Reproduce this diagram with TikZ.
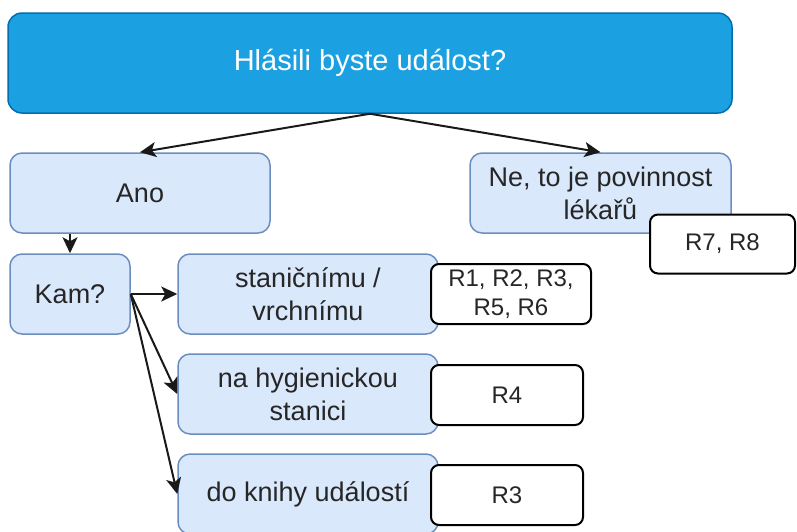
\documentclass[tikz,border=0pt]{standalone}
\usepackage{fontspec}
\setmainfont{Liberation Sans}
\usetikzlibrary{arrows.meta}
\definecolor{askfill}{HTML}{1BA1E2}
\definecolor{askline}{HTML}{006EAF}
\definecolor{optfill}{HTML}{DAE8FC}
\definecolor{optline}{HTML}{6C8EBF}

\begin{document}
\begin{tikzpicture}[x=1pt, y=-1pt,
    question/.style={draw=askline, fill=askfill, text=white, rounded corners=14pt, line width=1.5pt, minimum width=724pt, minimum height=100pt, font=\fontsize{29}{35}\selectfont},
    option/.style={draw=optline, fill=optfill, text=black!85, rounded corners=12pt, line width=1.5pt, minimum height=80pt, align=center, inner sep=0pt, font=\fontsize{27}{33}\selectfont},
    rules/.style={draw=black, fill=white, text=black!85, rounded corners=8pt, line width=2pt, minimum height=60pt, align=center, inner sep=0pt, font=\fontsize{24}{29}\selectfont},
    link/.style={-{Stealth[length=16pt, width=15pt, inset=4pt]}, line width=2pt, black!90}]
    \useasboundingbox (0,0) rectangle (797,531);

    \node[question] (ask) at (370,63) {Hlásili byste událost?};

    \node[option, minimum width=260pt] (ano) at (140,193) {Ano};
    \node[option, minimum width=261pt] (ne) at (600.5,193) {
        Ne, to je povinnost\\
        lékařů
    };

    \node[option, minimum width=120pt] (kam) at (70,294) {Kam?};
    \node[option, minimum width=260pt] (stanicni) at (308,294) {
        staničnímu /\\
        vrchnímu
    };
    \node[option, minimum width=260pt] (hygiena) at (308,394) {
        na hygienickou\\
        stanici
    };
    \node[option, minimum width=260pt] (kniha) at (308,494) {do knihy událostí};

    \draw[link] (ask.south) -- (ano.north);
    \draw[link] (ask.south) -- (ne.north);
    \draw[link] (kam.north |- ano.south) -- (kam.north);
    \draw[link] (kam.east) -- (stanicni.west);
    \draw[link] (kam.east) -- (hygiena.west);
    \draw[link] (kam.east) -- (kniha.west);

    \node[rules, minimum width=145pt, minimum height=59pt] (rne) at (722.5,244) {R7, R8};
    \node[rules, minimum width=160pt] (rstanicni) at (511,294) {
        R1, R2, R3,\\
        R5, R6
    };
    \node[rules, minimum width=152pt] (rhygiena) at (507,395) {R4};
    \node[rules, minimum width=152pt] (rkniha) at (507,495) {R3};
\end{tikzpicture}
\end{document}
